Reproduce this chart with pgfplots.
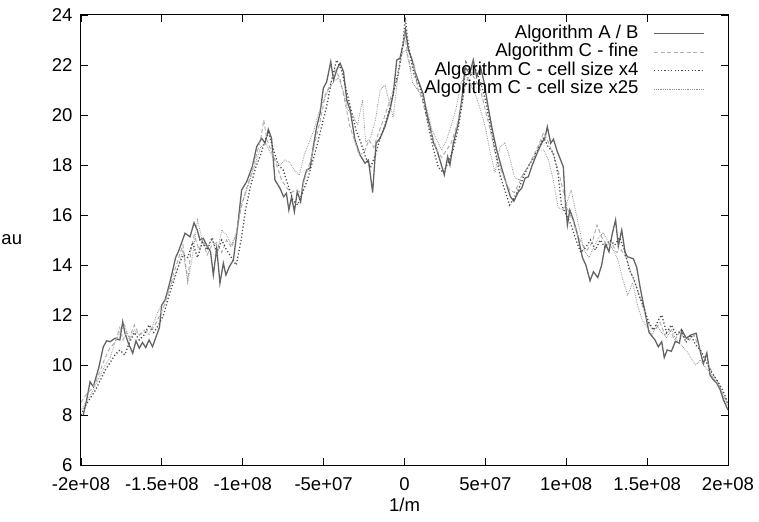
\documentclass[border=0pt]{standalone}
\usepackage{fontspec}
\setmainfont{Liberation Sans}
\usepackage{pgfplots}
\usepackage{pgfplotstable}
\pgfplotsset{compat=1.18}

\definecolor{cAB}{RGB}{100,100,100}
\definecolor{cfine}{RGB}{175,175,175}
\definecolor{cx4}{RGB}{75,75,75}
\definecolor{cx25}{RGB}{140,140,140}

\pgfplotstableread{
x y
-198.6 8.0
-196.5 8.6
-194.4 9.33
-192.4 9.13
-189 9.9
-186.2 10.73
-184.1 10.97
-182 10.93
-179 11.07
-176 11.0
-174.2 11.73
-172.8 11.27
-170.7 10.87
-168 10.47
-166 10.97
-164 10.67
-162 10.9
-160 10.7
-157.9 11.0
-155.8 10.73
-153.2 11.2
-151.5 11.5
-150.1 12.4
-148 12.6
-145.5 13.2
-143 13.87
-141.5 14.3
-139.8 14.53
-135.7 15.27
-132.6 15.13
-130.1 15.69
-128.1 15.4
-126.5 15.0
-124.4 15.07
-122.4 14.8
-119.9 14.53
-118.2 13.6
-116.1 14.67
-114.1 13.27
-112 14.07
-110.4 13.6
-108.3 13.93
-105.8 14.2
-103.4 15.4
-100.7 17.0
-97.6 17.33
-94.1 17.93
-91.4 18.73
-88.3 19.07
-86.2 18.87
-84.2 19.43
-82.2 19.07
-80.1 17.4
-77 17.07
-74.7 16.73
-73 16.87
-71.5 16.2
-69.8 16.73
-68.1 16.13
-66.3 16.93
-64.2 16.53
-62.6 17.33
-60.5 17.8
-58.4 17.87
-56.4 18.73
-54.3 19.53
-52.2 20.07
-50.2 21.07
-48.1 21.33
-45.6 22.13
-43.9 21.4
-41.5 21.87
-39.8 22.07
-37.7 21.73
-35.7 20.6
-33.6 20.2
-30.6 19.0
-27.5 18.4
-24.4 18.07
-22.3 18.2
-19.7 16.9
-17.6 18.87
-15.1 19.07
-12.1 19.53
-9.0 20.2
-6.9 20.87
-4.8 22.2
-2.8 22.27
-0.7 22.87
0.6 23.4
2.4 22.6
4.4 22.27
6.5 21.73
9.1 21.27
11.6 20.83
13.7 20.1
15.8 19.53
17.9 18.9
20.0 18.6
22.5 18.07
24.6 17.6
26.7 18.33
28.1 18.0
30.2 18.87
33.2 19.67
35.4 20.6
37.4 21.9
40.4 21.67
42.5 22.2
44.6 21.53
47.0 21.9
49.1 21.35
51.5 20.4
54.3 19.4
57.0 18.6
60.1 17.87
63.2 17.2
65.5 16.73
67.6 16.55
70.4 16.93
72.5 17.07
74.5 17.47
76.6 17.53
78.6 17.93
80.7 18.27
82.8 18.6
84.8 18.87
86.9 19.1
88.3 19.53
90.4 18.87
92.1 19.03
94.5 18.53
98.2 17.93
99.2 16.73
100.7 15.6
102.2 16.2
104.4 15.8
107.0 15.2
110.0 14.3
112.1 14.0
114.7 13.37
116.8 13.73
119.5 13.5
121.9 14.0
124.2 14.85
126.4 14.53
128.5 15.27
130.5 15.8
132.2 14.75
134.3 15.4
136.4 14.5
137.8 14.33
141.5 14.25
143.6 13.9
145.6 13.13
148.7 12.1
151.2 11.3
154.9 11.0
156.9 10.73
159.0 10.93
160.6 10.3
162.4 10.6
165.0 10.55
167.5 10.95
169.9 10.87
171.4 11.4
174.2 11.07
177.0 11.2
180.3 11.27
183.1 10.47
184.8 10.05
186.9 10.48
188.9 9.6
191.0 9.4
193.1 9.27
195.2 9.0
197.2 8.6
200.0 8.2
}\dataAB

\pgfplotstableread{
x y
-200 8.5
-197 8.8
-194 9.0
-191 9.3
-188 9.8
-185 10.3
-182 10.7
-179 10.9
-176 11.5
-174 11.0
-172 11.3
-170 11.1
-167 11.6
-164 11.2
-161 11.3
-158 11.4
-155 11.5
-152 11.9
-149 12.3
-146 12.9
-143 13.6
-140 14.2
-137 14.8
-134 13.4
-132 14.6
-130 15.2
-127 14.6
-125 15.0
-122 14.4
-119 14.8
-116 14.9
-113 14.5
-110 15.0
-107 14.7
-104 15.2
-101 16.3
-98 17.0
-95 17.6
-92 18.3
-89 19.0
-87 19.8
-85 19.0
-82 18.5
-79 18.0
-76 17.4
-73 17.1
-70 16.9
-67 17.0
-64 16.9
-61 17.6
-58 18.2
-55 19.0
-52 19.8
-49 20.8
-46 21.2
-43 21.8
-40 21.5
-37 20.6
-34 19.6
-31 19.0
-28 18.4
-25 18.5
-22 19.0
-19 18.7
-16 19.3
-13 19.8
-10 20.4
-7 21.0
-4 21.5
-2 22.3
0 23.3
2 22.4
4 21.8
6 22.0
8 21.1
11 20.6
14 19.8
17 19.2
20 18.6
23 18.3
26 18.6
29 18.9
32 19.5
35 20.3
38 21.3
41 21.7
44 21.4
47 21.0
50 20.2
53 19.4
56 18.5
59 17.9
62 17.4
65 17.0
68 16.9
71 17.3
74 17.7
77 18.0
80 18.4
83 18.8
86 19.3
89 18.9
92 18.4
95 17.8
98 17.0
101 16.2
104 15.8
107 15.2
110 14.8
113 14.6
116 14.9
119 15.6
122 15.1
125 14.8
128 14.9
131 14.5
134 14.6
137 14.3
140 13.7
143 13.2
146 12.6
149 12.0
152 11.5
155 11.4
158 11.7
161 11.2
164 11.4
167 11.0
170 11.3
173 11.1
176 11.0
179 11.2
182 10.7
185 10.3
188 10.0
191 9.6
194 9.3
197 8.8
200 8.5
}\dataFine

\pgfplotstableread{
x y
-200 8.0
-197 8.4
-194 8.7
-191 9.0
-188 9.4
-185 9.8
-182 10.1
-179 10.4
-176 10.6
-173 10.4
-170 10.9
-167 11.3
-164 11.0
-161 11.2
-158 11.6
-155 11.3
-152 11.6
-149 12.0
-146 12.7
-143 13.3
-140 13.9
-137 14.4
-134 14.3
-131 14.9
-128 14.3
-125 14.9
-122 14.6
-119 15.1
-116 14.5
-113 15.0
-110 14.6
-107 14.3
-104 14.0
-101 15.0
-98 16.3
-95 17.2
-92 17.9
-89 18.4
-86 19.0
-84 19.3
-81 18.6
-78 18.0
-75 17.8
-72 17.2
-69 16.6
-66 16.4
-63 16.9
-60 17.4
-57 18.1
-54 18.8
-51 19.6
-48 20.4
-45 21.4
-42 22.2
-39 21.8
-36 21.0
-33 20.2
-30 19.4
-27 18.9
-24 18.3
-21 17.9
-18 18.4
-15 19.1
-12 19.6
-9 20.3
-6 21.1
-3 22.0
-1 22.8
0.5 23.9
2 23.0
4 22.2
6 21.6
9 21.2
12 20.5
15 19.5
18 18.6
21 17.9
24 17.7
27 18.1
30 18.6
33 19.4
36 20.6
38 22.1
41 21.6
44 21.8
47 21.3
50 20.6
53 19.6
56 18.6
59 17.6
62 17.0
65 16.4
68 16.7
71 17.1
74 17.6
77 18.0
80 18.3
83 18.7
86 19.1
89 18.7
92 18.5
95 17.6
97 16.4
100 16.0
103 15.6
106 15.0
109 14.5
112 14.7
115 15.0
118 14.6
121 15.0
124 14.7
127 15.0
130 14.8
133 15.1
136 14.6
139 13.8
142 13.4
145 12.8
148 12.3
151 11.7
154 11.4
157 11.8
159 12.0
162 11.3
165 11.6
168 11.2
171 11.4
174 10.9
177 11.2
180 10.8
183 10.6
186 10.2
189 9.8
192 9.5
195 9.2
198 8.8
200 8.4
}\dataXfour

\pgfplotstableread{
x y
-200 8.2
-197 8.5
-194 8.8
-191 9.2
-188 9.6
-185 10.0
-182 10.3
-179 10.9
-176 11.3
-173 11.6
-170 11.0
-167 11.4
-164 11.2
-161 11.4
-158 11.2
-155 11.7
-152 12.2
-149 12.5
-146 13.0
-143 13.4
-140 13.9
-137 14.6
-134 13.3
-131 14.4
-128 15.8
-125 15.0
-122 14.7
-119 15.0
-116 14.4
-113 15.4
-110 15.2
-107 14.8
-104 15.3
-101 16.4
-98 16.9
-95 17.5
-92 18.1
-89 18.7
-86 18.9
-83 18.5
-80 18.2
-77 18.0
-74 18.2
-71 18.1
-68 17.8
-65 17.6
-62 18.4
-59 18.9
-56 19.4
-53 20.1
-50 20.6
-47 21.0
-44 21.3
-41 21.5
-38 21.0
-35 20.2
-32 20.0
-29 19.6
-26 20.6
-24 18.9
-21 19.1
-18 19.8
-15 21.0
-12 21.2
-9 20.4
-7 19.9
-5 21.0
-3 22.2
-1 22.5
1 22.6
3 22.0
5 21.3
8 21.0
11 20.8
14 20.2
17 19.4
20 19.0
23 18.6
26 19.0
29 19.6
32 20.3
35 21.3
38 21.6
41 21.2
44 20.8
47 20.2
50 19.5
53 18.5
56 17.7
59 18.7
62 18.9
65 18.3
68 17.5
71 17.4
74 17.7
77 18.0
80 18.3
83 18.6
86 18.6
89 18.2
92 17.4
95 16.3
98 16.2
101 16.6
103 17.0
105 16.4
108 15.5
111 14.6
114 14.3
117 14.7
120 15.1
123 15.3
126 14.9
129 14.6
132 14.2
135 13.4
138 12.8
141 13.3
144 12.4
147 11.8
150 11.5
153 11.2
156 11.6
159 11.3
162 11.1
165 11.4
168 11.0
171 10.8
174 10.6
177 10.3
180 10.0
183 10.2
186 9.9
189 9.7
192 9.4
195 9.1
198 8.6
200 8.4
}\dataXtwentyfive

\begin{document}
\begin{tikzpicture}
\begin{axis}[
  scale only axis,
  width=647bp, height=450bp,
  xmin=-200, xmax=200, ymin=6, ymax=24,
  xtick={-200,-150,...,200},
  xticklabels={-2e+08,-1.5e+08,-1e+08,-5e+07,0,5e+07,1e+08,1.5e+08,2e+08},
  ytick={6,8,...,24},
  /pgf/number format/assume math mode=true,
  font=\fontsize{18.6}{22}\selectfont,
  tick label style={font=\fontsize{18.6}{22}\selectfont},
  xticklabel style={yshift=-9bp},
  yticklabel style={xshift=-5bp},
  tick align=inside,
  major tick length=7bp,
  every tick/.style={black, line width=0.8bp},
  axis line style={black, line width=1bp},
  xlabel={1/m},
  ylabel={au},
  xlabel style={at={(axis description cs:0.5,-0.089)}, anchor=center},
  ylabel style={rotate=-90, at={(axis description cs:-0.107,0.5)}, anchor=center},
  legend plot pos=right,
  legend cell align=right,
  legend image code/.code={\draw[#1] (0bp,0bp) -- (50bp,0bp);},
  legend style={at={(1,1)}, anchor=north east, xshift=-23bp, yshift=-10bp,
    draw=none, fill=none, inner sep=0pt, row sep=1.5bp,
    font=\fontsize{18.6}{18.5}\selectfont,
    nodes={inner sep=0pt, text height=13bp, text depth=4bp},
    /tikz/every odd column/.style={column sep=15bp}},
]
\addplot[cAB, line width=1.3bp] table[x=x,y=y] {\dataAB};
\addlegendentry{Algorithm A / B}
\addplot[cfine, line width=1bp, dash pattern=on 4bp off 2.5bp] table[x=x,y=y] {\dataFine};
\addlegendentry{Algorithm C - fine}
\addplot[cx4, line width=1.3bp, dash pattern=on 1.2bp off 2.2bp] table[x=x,y=y] {\dataXfour};
\addlegendentry{Algorithm C - cell size x4}
\addplot[cx25, line width=0.8bp, dash pattern=on 0.7bp off 1.1bp] table[x=x,y=y] {\dataXtwentyfive};
\addlegendentry{Algorithm C - cell size x25}
\end{axis}
\pgfresetboundingbox
\useasboundingbox (-81bp,-57bp) rectangle (678bp,465bp);
\end{tikzpicture}
\end{document}
